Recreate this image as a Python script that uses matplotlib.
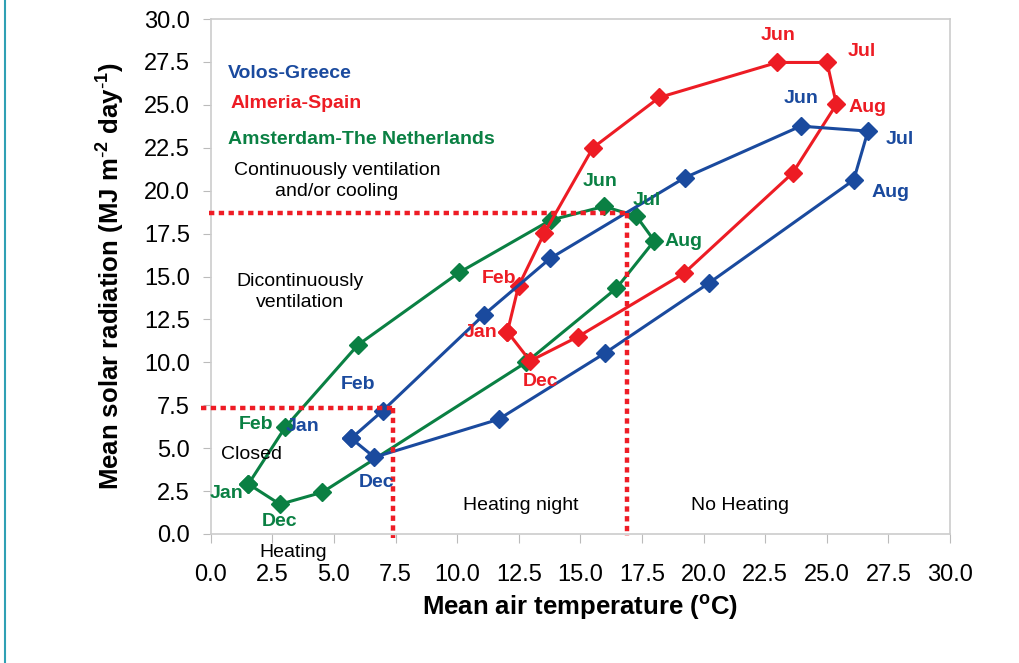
import matplotlib
matplotlib.use("Agg")
import matplotlib.pyplot as plt
from matplotlib.lines import Line2D

plt.rcParams['font.family'] = ['Liberation Sans', 'DejaVu Sans']
plt.rcParams['axes.unicode_minus'] = False

months = ["Jan", "Feb", "Mar", "Apr", "May", "Jun", "Jul", "Aug", "Sep", "Oct", "Nov", "Dec"]

volos_temp = [5.70, 6.98, 11.07, 13.78, 19.23, 23.94, 26.67, 26.09, 20.24, 15.98, 11.68, 6.64]
volos_rad = [5.57, 7.18, 12.75, 16.06, 20.75, 23.76, 23.47, 20.62, 14.64, 10.52, 6.68, 4.47]

almeria_temp = [12.04, 12.49, 13.53, 15.51, 18.20, 22.99, 25.01, 25.39, 23.61, 19.20, 14.90, 12.96]
almeria_rad = [11.78, 14.44, 17.51, 22.50, 25.43, 27.47, 27.47, 25.03, 21.02, 15.18, 11.49, 10.08]

amsterdam_temp = [1.53, 3.02, 5.97, 10.09, 13.80, 15.96, 17.27, 18.00, 16.46, 12.80, 4.53, 2.81]
amsterdam_rad = [2.91, 6.21, 11.01, 15.24, 18.29, 19.08, 18.52, 17.08, 14.31, 10.00, 2.43, 1.73]

# threshold lines
thr_high_temp = 16.9
thr_high_rad = 18.68
thr_low_temp = 7.41
thr_low_rad = 7.36

x_ticks = [0.0, 2.5, 5.0, 7.5, 10.0, 12.5, 15.0, 17.5, 20.0, 22.5, 25.0, 27.5, 30.0]
y_ticks = [0.0, 2.5, 5.0, 7.5, 10.0, 12.5, 15.0, 17.5, 20.0, 22.5, 25.0, 27.5, 30.0]

BLUE = '#1A4A9E'
RED = '#ED1C24'
GREEN = '#0A8043'
THR = '#EE1C25'

fig = plt.figure(figsize=(10.19, 6.63), dpi=100)
ax = fig.add_axes([0.2068, 0.1946, 0.7255, 0.7767])

def closed(a):
    return list(a) + [a[0]]

for t, r, c in [(amsterdam_temp, amsterdam_rad, GREEN),
                (almeria_temp, almeria_rad, RED),
                (volos_temp, volos_rad, BLUE)]:
    ax.plot(closed(t), closed(r), color=c, lw=2.2, marker='D', ms=9.5,
            mec=c, mfc=c, zorder=3)

dot = dict(color=THR, lw=3.2, linestyle=(0, (1.2, 1.0)), dash_capstyle='butt',
           clip_on=False, zorder=4)
ax.plot([-0.05, thr_high_temp], [thr_high_rad, thr_high_rad], **dot)
ax.plot([thr_high_temp, thr_high_temp], [thr_high_rad, -0.1], **dot)
ax.plot([-0.4, thr_low_temp], [thr_low_rad, thr_low_rad], **dot)
ax.plot([thr_low_temp, thr_low_temp], [thr_low_rad, -0.25], **dot)

ax.set_xlim(0, 30)
ax.set_ylim(0, 30)
ax.set_xticks(x_ticks)
ax.set_yticks(y_ticks)
ax.set_xticklabels([f"{v:.1f}" for v in x_ticks])
ax.set_yticklabels([f"{v:.1f}" for v in y_ticks])
for s in ax.spines.values():
    s.set_color('#CCCCCC')
    s.set_linewidth(1.2)
ax.tick_params(axis='both', colors='#BBBBBB', labelcolor='black', labelsize=17,
               direction='out')
ax.tick_params(axis='y', length=6, pad=9)
ax.tick_params(axis='x', length=6.5, pad=15)

ax.set_xlabel("Mean air temperature ($\\mathregular{^{o}}$C)", fontsize=18.5,
              fontweight='bold', labelpad=5)
ax.set_ylabel("Mean solar radiation (MJ m$\\mathregular{^{\\text{-}2}}$ day$\\mathregular{^{\\text{-}1}}$)",
              fontsize=18.5, fontweight='bold', labelpad=12)

# month labels: (series temps, rads, colour, [(month index, dx, dy) ...])
lab_specs = [
    (volos_temp, volos_rad, BLUE, [(5, 0, 28), (6, 32, -8), (7, 37, -12),
                                   (1, -25, 26), (0, -49, 12), (11, 2, -25)]),
    (almeria_temp, almeria_rad, RED, [(5, 1, 27), (6, 35, 11), (7, 31, -3),
                                      (1, -20, 8), (0, -27, -1), (11, 10, -21)]),
    (amsterdam_temp, amsterdam_rad, GREEN, [(5, -4, 25), (6, 10, 16), (7, 29, -1),
                                            (1, -29, 3), (0, -22, -9), (11, 0, -17)]),
]
for t, r, c, specs in lab_specs:
    for i, dx, dy in specs:
        ax.annotate(months[i], (t[i], r[i]), xytext=(dx, dy), textcoords='offset pixels',
                    ha='center', va='center', color=c, fontsize=14, fontweight='bold',
                    zorder=5)

def fx(px):
    return (px - 210.7) / 24.63

def fy(py):
    return (534 - py) / 17.17

ax.text(fx(228), fy(73), "Volos-Greece", color=BLUE, fontsize=14, fontweight='bold',
        ha='left', va='center')
ax.text(fx(230), fy(103), "Almeria-Spain", color=RED, fontsize=14, fontweight='bold',
        ha='left', va='center')
ax.text(fx(228), fy(139), "Amsterdam-The Netherlands", color=GREEN, fontsize=14,
        fontweight='bold', ha='left', va='center')
ax.text(fx(337), fy(181), "Continuously ventilation\nand/or cooling", fontsize=14,
        ha='center', va='center', linespacing=1.25)
ax.text(fx(300), fy(292), "Dicontinuously\nventilation", fontsize=14, ha='center',
        va='center', linespacing=1.25)
ax.text(fx(251), fy(454), "Closed", fontsize=14, ha='center', va='center')
ax.text(fx(521), fy(506), "Heating night", fontsize=14, ha='center', va='center')
ax.text(fx(740), fy(506), "No Heating", fontsize=14, ha='center', va='center')
ax.text(fx(293), fy(553), "Heating", fontsize=14, ha='center', va='center', clip_on=False)

fig.add_artist(Line2D([0.005, 0.005], [0, 1], transform=fig.transFigure,
                      color='#2FA0B4', lw=1.5))

fig.savefig("out.png", dpi=100)
